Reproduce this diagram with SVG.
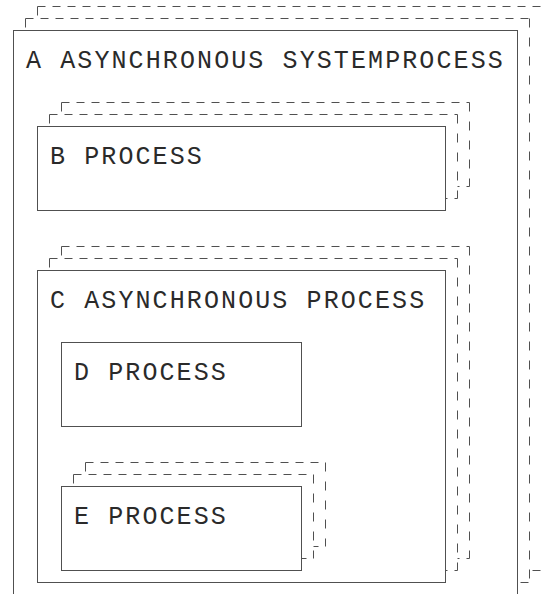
<svg xmlns="http://www.w3.org/2000/svg" width="541" height="594" viewBox="0 0 541 594">
  <style>
    .fill { fill: #ffffff; stroke: none; }
    .box { fill: #ffffff; stroke: #505050; stroke-width: 1; }
    .dh { fill: none; stroke: #505050; stroke-width: 1; stroke-dasharray: 8 7; }
    .dv { fill: none; stroke: #505050; stroke-width: 1; stroke-dasharray: 9 10; }
    .label { font-family: "Liberation Mono", "DejaVu Sans Mono", monospace; font-size: 25px; letter-spacing: 2.1px; fill: #2a2a2a; }
  </style>

  <!-- A: asynchronous system process, stacked twice behind -->
  <g id="node-a">
    <rect class="fill" x="37.5" y="6.5" width="504" height="564"/>
    <path class="dh" d="M37.5 6.5 H541.5 M37.5 570.5 H541.5"/>
    <path class="dv" d="M37.5 6.5 V570.5 M541.5 6.5 V570.5"/>
    <rect class="fill" x="25.5" y="18.5" width="504" height="564"/>
    <path class="dh" d="M25.5 18.5 H529.5 M25.5 582.5 H529.5"/>
    <path class="dv" d="M25.5 18.5 V582.5 M529.5 18.5 V582.5"/>
    <rect class="box" x="13.5" y="30.5" width="504" height="565"/>
    <text class="label" x="26" y="67.5">A ASYNCHRONOUS SYSTEMPROCESS</text>
  </g>

  <!-- B: process, stacked -->
  <g id="node-b">
    <rect class="fill" x="61.5" y="102.5" width="408" height="84"/>
    <path class="dh" d="M61.5 102.5 H469.5 M61.5 186.5 H469.5"/>
    <path class="dv" d="M61.5 102.5 V186.5 M469.5 102.5 V186.5"/>
    <rect class="fill" x="49.5" y="114.5" width="408" height="84"/>
    <path class="dh" d="M49.5 114.5 H457.5 M49.5 198.5 H457.5"/>
    <path class="dv" d="M49.5 114.5 V198.5 M457.5 114.5 V198.5"/>
    <rect class="box" x="37.5" y="126.5" width="408" height="84"/>
    <text class="label" x="50" y="164">B PROCESS</text>
  </g>

  <!-- C: asynchronous process, stacked -->
  <g id="node-c">
    <rect class="fill" x="61.5" y="246.5" width="408" height="312"/>
    <path class="dh" d="M61.5 246.5 H469.5 M61.5 558.5 H469.5"/>
    <path class="dv" d="M61.5 246.5 V558.5 M469.5 246.5 V558.5"/>
    <rect class="fill" x="49.5" y="258.5" width="408" height="312"/>
    <path class="dh" d="M49.5 258.5 H457.5 M49.5 570.5 H457.5"/>
    <path class="dv" d="M49.5 258.5 V570.5 M457.5 258.5 V570.5"/>
    <rect class="box" x="37.5" y="270.5" width="408" height="312"/>
    <text class="label" x="50" y="307.5">C ASYNCHRONOUS PROCESS</text>
  </g>

  <!-- D: single process -->
  <g id="node-d">
    <rect class="box" x="61.5" y="342.5" width="240" height="84"/>
    <text class="label" x="74" y="379.5">D PROCESS</text>
  </g>

  <!-- E: process, stacked -->
  <g id="node-e">
    <rect class="fill" x="85.5" y="462.5" width="240" height="84"/>
    <path class="dh" d="M85.5 462.5 H325.5 M85.5 546.5 H325.5"/>
    <path class="dv" d="M85.5 462.5 V546.5 M325.5 462.5 V546.5"/>
    <rect class="fill" x="73.5" y="474.5" width="240" height="84"/>
    <path class="dh" d="M73.5 474.5 H313.5 M73.5 558.5 H313.5"/>
    <path class="dv" d="M73.5 474.5 V558.5 M313.5 474.5 V558.5"/>
    <rect class="box" x="61.5" y="486.5" width="240" height="84"/>
    <text class="label" x="74" y="523.5">E PROCESS</text>
  </g>

  <g id="connectors"/>
</svg>
